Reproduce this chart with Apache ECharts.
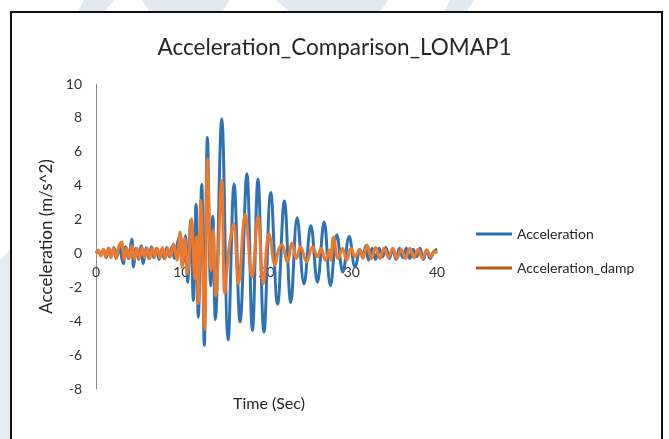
<!DOCTYPE html>
<html>
<head>
<meta charset="utf-8">
<script src="https://cdn.jsdelivr.net/npm/echarts@6/dist/echarts.min.js"></script>
<style>
  body { margin: 0px; padding: 0px; background: #fff; }
  #chart { width: 669px; height: 439px; }
</style>
</head>
<body>
<div id="chart"></div>
<script>
// time (s) and acceleration (m/s^2) at the turning points
var accTime = [0, 0.3, 0.6, 0.9, 1.2, 1.5, 1.8, 2.1, 2.4, 2.7, 3.0, 3.2, 3.5, 3.8, 4.2, 4.4, 4.7, 5.0, 5.3, 5.55,
  5.9, 6.2, 6.5, 6.8, 7.1, 7.4, 7.7, 8.0, 8.3, 8.6, 8.9, 9.2, 9.5, 9.86, 10.2, 10.5, 10.75, 11.1, 11.42, 11.74,
  12.0, 12.4, 12.7, 13.07, 13.45, 13.7, 14.0, 14.75, 15.5, 16.2, 16.9, 17.7, 18.35, 19.0, 19.7, 20.5, 21.3, 22.1,
  22.85, 23.6, 24.4, 25.2, 25.97, 26.76, 27.5, 28.25, 28.95, 29.7, 30.4, 31.0, 31.3, 31.65, 31.96, 32.4, 32.8,
  33.2, 33.6, 34.0, 34.4, 34.8, 35.2, 35.6, 36.0, 36.4, 36.8, 37.2, 37.6, 38.0, 38.4, 38.8, 39.2, 39.6, 40.0];
var accValue = [0, 0.15, -0.1, 0.2, -0.25, 0.3, -0.15, 0.35, -0.3, 0.45, -0.2, -0.6, 0.4, -0.3, 0.85, -0.8, 0.3, -0.35, 0.45, -0.6,
  0.35, -0.3, 0.4, -0.25, 0.3, -0.35, 0.25, -0.3, 0.35, -0.2, 0.4, -0.3, 0.5, 1.1, -0.6, 1.05, -1.7, 1.95, -2.77, 2.9,
  -3.76, 4.07, -5.43, 6.85, -1.9, 2.2, -3.9, 7.95, -5.1, 4.1, -4.05, 4.7, -4.55, 4.4, -4.65, 3.6, -3.0, 3.1,
  -2.9, 2.1, -1.8, 1.65, -1.7, 1.85, -1.9, 1.1, -1.1, 1.0, -0.8, 0.2, -0.1, 0.45, -0.4, 0.3, -0.35,
  0.3, -0.2, 0.35, -0.3, 0.25, -0.35, 0.3, -0.25, 0.3, -0.3, 0.25, -0.2, 0.3, -0.35, 0.2, -0.3, 0.1, 0.25];

var dampTime = [0, 0.25, 0.55, 0.85, 1.15, 1.45, 1.75, 2.05, 2.35, 2.65, 3.0, 3.3, 3.6, 3.9, 4.2, 4.5, 4.8, 5.1, 5.4, 5.7,
  6.0, 6.3, 6.6, 6.9, 7.2, 7.5, 7.8, 8.1, 8.4, 8.7, 9.1, 9.5, 9.86, 10.1, 10.4, 10.75, 11.2, 11.6, 11.8, 12.0,
  12.3, 12.75, 13.07, 13.5, 13.75, 14.05, 14.75, 15.1, 15.6, 16.15, 16.7, 17.5, 18.3, 19.0, 19.6, 20.3, 21.0,
  21.4, 21.8, 22.45, 23.0, 23.5, 24.0, 24.7, 25.4, 26.0, 26.4, 26.9, 27.4, 27.55, 27.85, 28.4, 28.9, 29.4, 29.9,
  30.4, 30.9, 31.3, 31.8, 32.3, 32.8, 33.3, 33.8, 34.3, 34.8, 35.3, 35.8, 36.3, 36.8, 37.3, 37.8, 38.3, 38.8,
  39.3, 39.7, 40.0];
var dampValue = [0, 0.2, -0.15, 0.25, -0.2, 0.3, -0.25, 0.3, -0.3, 0.35, 0.67, -0.35, 0.3, -0.3, 0.45, -0.35, 0.3, -0.3, 0.35, -0.25,
  0.3, -0.3, 0.35, -0.2, 0.3, -0.25, 0.35, -0.3, 0.3, -0.2, 0.57, -0.4, 1.26, -0.8, 0.9, -1.2, 2.05, -1.5, 1.0, -2.97,
  3.13, -4.5, 5.6, -1.0, 1.4, -2.5, 4.3, -2.36, 0.3, 1.77, -1.8, 2.3, -1.4, 2.2, -1.8, 1.17, -0.7,
  0.2, 0.5, -0.5, 0.6, -0.3, 0.4, -0.5, 0.4, -0.2, 0.3, -0.4, 0.2, -0.4, 0.95, -0.3, 0.3, -0.4, 0.3,
  -0.2, 0.25, -0.3, 0.5, -0.3, 0.35, -0.3, 0.3, -0.25, 0.3, -0.3, 0.25, -0.3, 0.3, -0.25, 0.25, -0.3, 0.2,
  -0.2, 0.15, 0];

var yTicks = { min: -8, max: 10, step: 2 };
var xTicks = { min: 0, max: 40, step: 10 };

var accData = accTime.map(function (t, i) { return [t, accValue[i]]; });
var dampData = dampTime.map(function (t, i) { return [t, dampValue[i]]; });

var font = "Lato, 'Open Sans', sans-serif";
var chart = echarts.init(document.getElementById("chart"));

// grid box; the time axis sits on the zero line, so shift it up from the bottom
var gridTop = 84, gridBottom = 50, plotH = 439 - gridTop - gridBottom;
var zeroShift = -plotH * (0 - yTicks.min) / (yTicks.max - yTicks.min);

var option = {
  backgroundColor: "#fff",
  animation: false,
  title: {
    text: "Acceleration_Comparison_LOMAP1",
    left: "center",
    top: 31,
    textStyle: { fontFamily: font, fontSize: 22.5, fontWeight: "normal", color: "#262626" }
  },
  legend: {
    orient: "vertical",
    left: 471,
    top: 221,
    icon: "rect",
    itemWidth: 36,
    itemHeight: 3,
    itemGap: 18,
    textStyle: { fontFamily: font, fontSize: 14, color: "#262626", lineHeight: 16 },
    data: [
      { name: "Acceleration", itemStyle: { color: "#2c6cae" } },
      { name: "Acceleration_damp", itemStyle: { color: "#c4561a" } }
    ]
  },
  grid: { left: 96, right: 232, top: gridTop, bottom: gridBottom },
  xAxis: {
    type: "value",
    min: xTicks.min,
    max: xTicks.max,
    interval: xTicks.step,
    offset: zeroShift,
    axisLine: { onZero: false, lineStyle: { color: "#d4d4d4", width: 1 } },
    axisTick: { show: false },
    splitLine: { show: false },
    axisLabel: { fontFamily: font, fontSize: 14, color: "#333", margin: 12 }
  },
  yAxis: {
    type: "value",
    min: yTicks.min,
    max: yTicks.max,
    interval: yTicks.step,
    name: "Acceleration (m/s^2)",
    nameLocation: "middle",
    nameGap: 40,
    nameTextStyle: { fontFamily: font, fontSize: 17, color: "#262626" },
    axisLine: { show: true, lineStyle: { color: "#8c8c8c", width: 1 } },
    axisTick: { show: false },
    splitLine: { show: false },
    axisLabel: { fontFamily: font, fontSize: 14, color: "#333", margin: 14 }
  },
  graphic: [
    // faint watermark strips outside the frame
    { type: "polygon", shape: { points: [[84, 0], [114, 0], [104, 12], [78, 12]] }, style: { fill: "#e2e8ef" }, silent: true },
    { type: "polygon", shape: { points: [[142, 0], [230, 0], [222, 12], [150, 12]] }, style: { fill: "#e2e8ef" }, silent: true },
    { type: "polygon", shape: { points: [[276, 0], [388, 0], [380, 12], [290, 12]] }, style: { fill: "#e2e8ef" }, silent: true },
    { type: "polygon", shape: { points: [[450, 0], [474, 0], [466, 12], [444, 12]] }, style: { fill: "#e2e8ef" }, silent: true },
    { type: "polygon", shape: { points: [[0, 260], [10, 250], [10, 439], [0, 439]] }, style: { fill: "#e6ebf1" }, silent: true },
    // frame
    { type: "rect", shape: { x: 11, y: 12, width: 651, height: 440 }, style: { fill: null, stroke: "#111", lineWidth: 2 }, silent: true },
    {
      type: "text", left: 233, top: 396,
      style: { text: "Time (Sec)", fontFamily: font, fontSize: 16, fill: "#262626" }
    }
  ],
  series: [
    {
      name: "Acceleration",
      type: "line",
      data: accData,
      showSymbol: false,
      smooth: 0.4,
      color: "#2e75b6",
      lineStyle: { width: 3, color: "#2e72b3" }
    },
    {
      name: "Acceleration_damp",
      type: "line",
      data: dampData,
      showSymbol: false,
      smooth: 0.4,
      color: "#ed7d31",
      lineStyle: { width: 3, color: "#ec7a2e" }
    }
  ]
};
chart.setOption(option);
</script>
</body>
</html>
